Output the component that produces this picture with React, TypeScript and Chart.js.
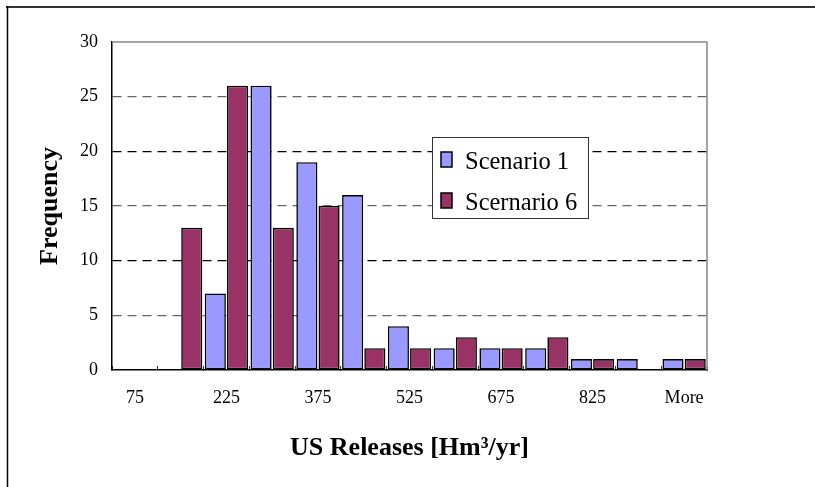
import { useEffect, useRef } from "react";
import { Chart, registerables } from "chart.js";

Chart.register(...registerables);

const categories = ["75", "150", "225", "300", "375", "450", "525", "600", "675", "750", "825", "900", "More"];
const scenario1 = [0, 0, 7, 26, 19, 16, 4, 2, 2, 2, 1, 1, 1];
const scenario6 = [0, 13, 26, 13, 15, 2, 2, 3, 2, 3, 1, 0, 1];
const seriesNames = ["Scenario 1", "Scernario 6"];
const seriesColors = ["#9999FF", "#993366"];
const yMin = 0;
const yMax = 30;
const yStep = 5;
const xTitle = "US Releases [Hm³/yr]";
const yTitle = "Frequency";

const FONT = "'Liberation Serif', 'Times New Roman', serif";

const framePlugin = {
  id: "frame",
  beforeDraw(chart: any) {
    const { ctx, width, height } = chart;
    ctx.save();
    ctx.fillStyle = "#fff";
    ctx.fillRect(0, 0, width, height);
    ctx.strokeStyle = "#333";
    ctx.lineWidth = 2;
    ctx.beginPath();
    ctx.moveTo(6, 7);
    ctx.lineTo(width, 7);
    ctx.stroke();
    ctx.strokeStyle = "#000";
    ctx.lineWidth = 1.5;
    ctx.beginPath();
    ctx.moveTo(7.5, 6);
    ctx.lineTo(7.5, height);
    ctx.stroke();
    ctx.restore();
  },
  beforeDatasetsDraw(chart: any) {
    const { ctx, chartArea: ca } = chart;
    ctx.save();
    ctx.strokeStyle = "#888";
    ctx.lineWidth = 1.5;
    ctx.beginPath();
    ctx.moveTo(ca.left, ca.top);
    ctx.lineTo(ca.right, ca.top);
    ctx.lineTo(ca.right, ca.bottom);
    ctx.stroke();
    ctx.restore();
  },
};

const legendPlugin = {
  id: "boxLegend",
  afterDatasetsDraw(chart: any) {
    const { ctx, chartArea: ca } = chart;
    const x0 = ca.left + 320;
    const y0 = ca.top + 95;
    const w = 156;
    const h = 81;
    ctx.save();
    ctx.fillStyle = "#fff";
    ctx.fillRect(x0, y0, w, h);
    ctx.strokeStyle = "#333";
    ctx.lineWidth = 1;
    ctx.strokeRect(x0 + 0.5, y0 + 0.5, w, h);
    chart.data.datasets.forEach((ds: any, i: number) => {
      const sy = y0 + 15 + i * 41;
      ctx.fillStyle = ds.backgroundColor;
      ctx.fillRect(x0 + 9, sy, 11, 15);
      ctx.strokeStyle = "#000";
      ctx.lineWidth = 1.5;
      ctx.strokeRect(x0 + 9, sy, 11, 15);
      ctx.fillStyle = "#000";
      ctx.font = `24.5px ${FONT}`;
      ctx.textBaseline = "alphabetic";
      ctx.textAlign = "left";
      ctx.fillText(ds.label, x0 + 33, y0 + 31.5 + i * 41);
    });
    ctx.restore();
  },
};

export default function App() {
  const ref = useRef<HTMLCanvasElement>(null);

  useEffect(() => {
    if (!ref.current) return;
    const chart = new Chart(ref.current, {
      type: "bar",
      data: {
        labels: categories,
        datasets: [
          {
            label: seriesNames[0],
            data: scenario1,
            backgroundColor: seriesColors[0],
            borderColor: "#000",
            borderWidth: 1.6,
            borderSkipped: false,
            categoryPercentage: 0.97,
            barPercentage: 0.95,
          },
          {
            label: seriesNames[1],
            data: scenario6,
            backgroundColor: seriesColors[1],
            borderColor: "#000",
            borderWidth: 1.6,
            borderSkipped: false,
            categoryPercentage: 0.97,
            barPercentage: 0.95,
          },
        ],
      },
      options: {
        responsive: false,
        animation: false,
        devicePixelRatio: 1,
        layout: { padding: { left: 0, top: 42, right: 108, bottom: 0 } },
        plugins: {
          legend: { display: false },
          tooltip: { enabled: false },
        },
        scales: {
          x: {
            grid: {
              display: true,
              drawOnChartArea: false,
              drawTicks: true,
              tickLength: -4,
              tickColor: "#333",
              tickWidth: 1,
              offset: true,
            },
            border: { display: true, color: "#000", width: 1.5 },
            ticks: {
              autoSkip: false,
              maxRotation: 0,
              padding: 21,
              color: "#000",
              font: { family: FONT, size: 18 },
              callback: (_v: any, i: number) => (i % 2 === 0 ? categories[i] : ""),
            },
            title: {
              display: true,
              text: xTitle,
              color: "#000",
              font: { family: FONT, size: 26, weight: "bold" },
              padding: { top: 0, bottom: 23 },
            },
            afterFit: (s: any) => {
              s.height = 117;
            },
          },
          y: {
            min: yMin,
            max: yMax,
            ticks: {
              stepSize: yStep,
              padding: 14,
              color: "#000",
              font: { family: FONT, size: 18 },
            },
            grid: {
              drawTicks: false,
              lineWidth: 1.2,
              color: (c: any) => {
                const v = c.tick ? c.tick.value : 0;
                if (v === yMin || v === yMax) return "rgba(0,0,0,0)";
                return v % 10 === 0 ? "#000" : "#666";
              },
            },
            border: { display: true, color: "#000", width: 1.5, dash: [9, 6] },
            title: {
              display: true,
              text: yTitle,
              color: "#000",
              font: { family: FONT, size: 26, weight: "bold" },
              padding: { top: 35, bottom: 0 },
            },
            afterFit: (s: any) => {
              s.width = 112;
            },
          },
        },
      } as any,
      plugins: [framePlugin, legendPlugin],
    });
    return () => chart.destroy();
  }, []);

  return (
    <div style={{ position: "fixed", left: 0, top: 0, width: 815, height: 487, background: "#fff" }}>
      <canvas ref={ref} width={815} height={487} style={{ display: "block" }} />
    </div>
  );
}
